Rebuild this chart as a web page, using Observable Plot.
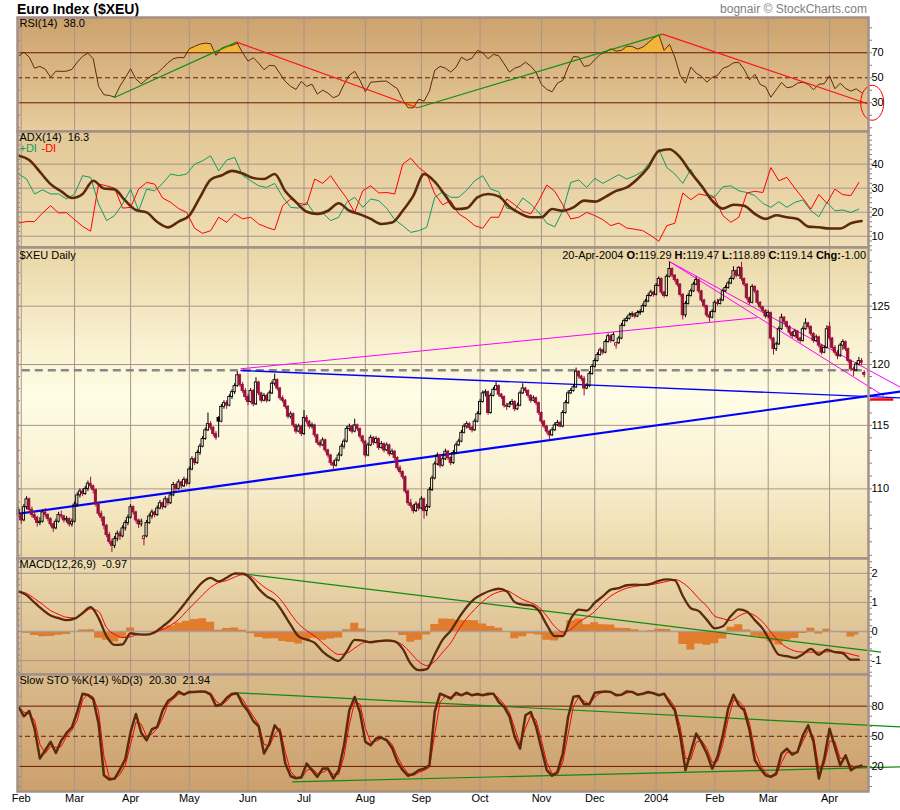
<!DOCTYPE html>
<html>
<head>
<meta charset="utf-8">
<script src="https://cdn.jsdelivr.net/npm/d3@7"></script>
<script src="https://cdn.jsdelivr.net/npm/@observablehq/plot@0.6"></script>
<style>
  body { margin: 0; background: #fff; }
  #chart { position: relative; width: 900px; height: 810px; overflow: hidden; }
  #chart svg { position: absolute; left: 0; }
  .title { position: absolute; left: 17px; top: 1px; font: bold 14px "Liberation Sans", Arial, sans-serif; }
  .credit { position: absolute; right: 33px; top: 2px; font: 12px "Liberation Sans", Arial, sans-serif; color: #808080; }
</style>
</head>
<body>
<div id="chart">
  <div class="title">Euro Index ($XEU)</div>
  <div class="credit">bognair © StockCharts.com</div>
</div>
<script>
// daily candles Jan 31 2003 .. Apr 20 2004 : [open, high, low, close]
const candles = [
  [108.4,108.6,107.8,108.0],[108.0,108.2,107.3,107.6],[107.6,108.8,107.5,108.6],[108.6,109.4,108.4,109.2],[109.2,109.3,108.2,108.4],
  [108.4,108.6,107.8,108.0],[108.0,108.3,107.6,107.8],[107.8,107.9,107.1,107.4],[107.4,107.8,107.2,107.5],[107.5,108.4,107.4,108.2],
  [108.2,108.5,107.8,108.0],[108.0,108.1,107.5,107.7],[107.7,107.8,107.1,107.3],[107.3,107.4,106.7,107.0],[107.0,107.7,106.9,107.5],
  [107.5,108.2,107.4,108.0],[108.0,108.3,107.7,107.9],[107.9,108.0,107.4,107.6],[107.6,107.9,107.4,107.7],[107.7,107.8,107.1,107.3],
  [107.3,107.7,107.1,107.5],
  // Mar
  [107.5,109.0,107.4,108.8],[108.8,109.7,108.6,109.5],[109.5,110.0,109.3,109.8],[109.8,110.0,109.4,109.6],[109.6,110.2,109.5,110.0],
  [110.0,110.6,109.8,110.4],[110.4,110.9,110.0,110.2],[110.2,110.3,109.6,109.9],[109.9,110.0,108.6,108.8],[108.8,108.9,107.9,108.1],
  [108.1,108.3,107.5,107.8],[107.8,107.9,106.9,107.2],[107.2,107.3,106.3,106.5],[106.5,106.7,105.8,106.0],[106.0,106.2,105.2,105.7],
  [105.7,106.4,105.5,106.2],[106.2,106.8,106.0,106.6],[106.6,106.8,106.1,106.4],[106.4,107.2,106.3,107.0],[107.0,107.6,106.8,107.4],
  [107.4,108.0,107.2,107.8],
  // Apr
  [107.8,108.8,107.7,108.6],[108.6,108.7,108.0,108.2],[108.2,108.3,107.4,107.6],[107.6,107.7,107.0,107.3],[107.3,107.7,107.1,107.5],
  [106.2,106.5,105.7,106.4],[106.4,107.6,106.3,107.4],[107.4,108.1,107.3,107.9],[107.9,108.4,107.7,108.2],[108.2,108.3,107.8,108.0],
  [108.0,108.7,107.9,108.5],[108.5,109.1,108.4,108.9],[108.9,109.0,108.4,108.6],[108.6,109.4,108.5,109.2],[109.2,109.3,108.7,108.9],
  [108.9,109.7,108.8,109.5],[109.5,110.5,109.4,110.3],[110.3,110.4,109.8,110.0],[110.0,110.7,109.9,110.5],[110.5,110.6,110.0,110.2],
  [110.2,110.9,110.1,110.7],[110.7,110.8,110.2,110.4],
  // May
  [110.4,111.7,110.3,111.5],[111.5,112.5,111.4,112.3],[112.3,112.4,111.8,112.0],[112.0,113.0,111.9,112.8],[112.8,113.5,112.6,113.3],
  [113.3,114.1,113.2,113.9],[113.9,114.8,113.8,114.6],[114.6,116.0,114.5,115.1],[115.1,115.3,114.6,114.8],[114.8,114.9,114.1,114.3],
  [114.3,114.5,113.8,114.0],[115.6,115.7,114.0,115.3],[115.3,116.7,115.2,116.5],[116.5,117.0,116.3,116.8],[116.8,117.0,116.3,116.6],
  [116.6,117.5,116.5,117.3],[117.3,117.9,117.1,117.7],[117.7,118.4,117.5,118.2],[118.2,119.4,118.1,119.1],[119.1,119.2,118.1,118.3],
  [118.3,118.5,117.6,117.8],[117.8,118.0,117.0,117.3],
  // Jun
  [117.3,117.5,116.6,116.9],[116.9,118.0,116.8,117.8],[117.8,117.9,116.5,116.7],[116.7,118.9,116.6,118.5],[118.5,118.6,117.4,117.6],
  [117.6,117.7,116.8,117.0],[117.0,117.6,116.9,117.4],[117.4,117.5,116.8,117.0],[117.0,117.8,116.9,117.6],[117.6,118.6,117.5,118.4],
  [118.4,119.2,118.2,118.7],[118.7,118.8,117.8,118.0],[118.0,118.1,117.0,117.2],[117.2,117.4,116.8,117.0],[117.0,117.1,116.3,116.5],
  [116.5,116.6,115.5,115.7],[115.7,116.1,115.5,115.9],[115.9,116.0,114.8,115.0],[115.0,115.1,114.3,114.5],[114.5,115.1,114.4,114.9],
  [114.9,115.0,114.1,114.3],
  // Jul
  [114.3,116.2,114.2,115.6],[115.6,115.8,115.1,115.3],[115.3,115.4,114.7,114.9],[114.9,115.2,114.7,115.0],[115.0,115.1,114.0,114.2],
  [114.2,114.3,113.4,113.6],[113.6,113.8,113.2,113.4],[113.4,114.0,113.3,113.8],[113.8,113.9,112.8,113.0],[113.0,113.1,112.4,112.6],
  [112.6,112.7,111.8,112.0],[112.0,112.2,111.4,111.8],[111.8,112.4,111.7,112.2],[112.2,112.8,112.1,112.6],[112.6,113.5,112.5,113.3],
  [113.3,113.9,113.1,113.7],[113.7,114.9,113.6,114.7],[114.7,115.1,114.5,114.9],[114.9,115.0,114.3,114.5],[114.5,115.5,114.4,115.0],
  [115.0,115.1,114.5,114.7],[114.7,114.8,113.9,114.1],[114.1,114.2,113.5,113.7],
  // Aug
  [113.7,113.8,112.4,112.6],[112.6,113.6,112.5,113.4],[113.4,114.2,113.3,114.0],[114.0,114.1,113.4,113.6],[113.6,114.1,113.5,113.9],
  [113.9,114.0,113.0,113.2],[113.2,113.7,113.1,113.5],[113.5,113.6,112.8,113.0],[113.0,113.6,112.9,113.4],[113.4,113.5,112.5,112.7],
  [112.7,113.1,112.6,112.9],[112.9,113.0,112.2,112.4],[112.4,112.5,111.4,111.6],[111.6,111.8,111.1,111.3],[111.3,111.4,110.7,110.9],
  [110.9,111.0,109.6,109.8],[109.8,109.9,108.7,108.9],[108.9,109.2,108.5,108.7],[108.7,108.8,108.1,108.3],[108.3,109.0,108.2,108.8],
  [108.8,108.9,108.3,108.5],
  // Sep
  [108.5,109.4,108.4,109.2],[109.2,109.3,107.7,108.3],[108.3,108.8,107.9,108.6],[108.6,110.1,108.5,109.9],[109.9,111.0,109.8,110.8],
  [110.8,112.1,110.7,111.9],[111.9,112.8,111.8,112.6],[112.6,112.7,111.6,111.8],[111.8,112.5,111.7,112.3],[112.3,113.1,112.2,112.9],
  [112.9,113.0,112.2,112.4],[112.4,112.5,111.8,112.0],[112.0,113.0,111.9,112.8],[112.8,113.6,112.7,113.4],[113.4,113.9,113.3,113.7],
  [113.7,114.6,113.6,114.4],[114.4,115.1,114.3,114.9],[114.9,115.3,114.7,115.1],[115.1,115.2,114.6,114.8],[114.8,114.9,114.4,114.6],
  [114.6,115.5,114.5,115.3],[115.3,116.1,115.2,115.9],
  // Oct
  [115.9,117.1,115.8,116.9],[116.9,117.8,116.8,117.6],[117.6,117.9,117.3,117.7],[117.7,117.8,115.8,116.0],[116.0,117.6,115.9,117.4],
  [117.4,118.1,117.3,117.9],[117.9,118.5,117.8,118.2],[118.2,118.3,117.3,117.5],[117.5,117.6,117.1,117.3],[117.3,117.4,116.4,116.6],
  [116.6,116.8,116.2,116.5],[116.5,116.9,116.4,116.7],[116.7,117.1,116.6,116.9],[116.9,117.0,116.1,116.3],[116.3,116.8,116.2,116.6],
  [116.6,117.8,116.5,117.6],[117.6,118.4,117.5,118.0],[118.0,118.1,117.6,117.8],[117.8,117.9,117.2,117.4],[117.4,117.5,116.8,117.0],
  [117.0,117.4,116.9,117.2],[117.2,117.3,116.6,116.8],[116.8,116.9,115.8,116.0],
  // Nov
  [116.0,116.1,115.1,115.3],[115.3,115.4,114.7,114.9],[114.9,115.0,114.3,114.5],[114.5,114.6,113.8,114.2],[114.2,114.8,114.1,114.6],
  [114.6,115.2,114.5,115.0],[115.0,115.4,114.9,115.2],[115.2,115.3,114.8,114.9],[114.9,116.2,114.8,116.0],[116.0,117.0,115.9,116.8],
  [116.8,117.8,116.7,117.6],[117.6,118.0,117.5,117.8],[117.8,118.3,117.7,118.1],[118.1,119.7,118.0,119.4],[119.4,119.5,118.8,119.0],
  [119.0,119.1,118.6,118.8],[118.8,119.0,117.4,118.0],[118.0,118.4,117.9,118.2],[118.2,119.4,118.1,119.2],[119.2,120.0,119.1,119.8],
  // Dec
  [119.8,120.5,119.7,120.3],[120.3,121.0,120.2,120.8],[120.8,121.4,120.7,121.2],[121.2,121.3,120.8,121.0],[121.0,122.1,120.9,121.9],
  [121.9,122.6,121.8,122.4],[122.4,122.5,121.8,122.0],[122.0,122.7,121.9,122.5],[121.6,121.9,121.3,121.8],[121.8,122.4,121.7,122.2],
  [122.2,123.5,122.1,123.3],[123.3,123.9,123.2,123.7],[123.7,124.1,123.6,123.9],[123.9,124.4,123.8,124.2],[124.2,124.5,124.0,124.3],
  [124.3,124.4,123.9,124.1],[124.1,124.6,124.0,124.4],[124.4,124.7,124.2,124.5],[124.5,125.2,124.4,125.0],[125.0,125.6,124.9,125.4],
  [125.4,126.1,125.3,125.9],[125.9,126.4,125.8,126.2],[126.2,126.3,125.8,126.0],
  // Jan 2004
  [126.0,127.0,125.9,126.8],[126.8,127.6,126.7,127.4],[127.4,127.5,126.0,126.2],[126.2,126.3,125.7,125.9],[125.9,127.8,125.8,127.6],
  [127.6,128.9,127.5,128.3],[128.3,128.4,127.5,127.7],[127.7,127.8,127.1,127.3],[127.3,127.4,126.7,126.9],[126.9,127.0,125.8,126.0],
  [126.0,126.1,123.8,124.2],[124.2,125.4,124.0,125.2],[125.2,126.1,125.1,125.9],[125.9,126.5,125.8,126.3],[126.3,127.1,126.2,126.9],
  [126.9,127.6,126.8,127.3],[127.3,127.4,126.1,126.3],[126.3,126.4,125.3,125.5],[125.5,125.6,124.8,125.0],[125.0,125.1,124.0,124.2],
  [124.2,124.5,123.6,124.0],[124.0,124.7,123.9,124.5],
  // Feb
  [124.5,125.5,124.4,125.3],[125.3,125.6,125.0,125.2],[125.2,125.7,125.1,125.5],[125.5,126.5,125.4,126.3],[126.3,126.8,126.2,126.6],
  [126.6,127.2,126.5,127.0],[127.0,127.6,126.9,127.4],[127.4,128.5,127.3,128.1],[128.1,128.2,127.5,127.7],[127.7,128.5,127.6,128.4],
  [128.4,128.9,127.2,127.4],[127.4,127.5,126.7,126.9],[126.9,127.0,125.5,125.7],[125.7,125.8,125.1,125.3],[125.3,126.9,125.2,126.7],
  [126.7,126.8,126.1,126.3],[126.3,126.4,125.1,125.3],[125.3,125.4,124.7,124.9],[124.9,125.0,124.4,124.6],[124.6,124.7,123.9,124.1],
  // Mar
  [124.1,124.6,123.9,124.4],[124.4,124.5,122.0,122.2],[122.2,122.3,120.8,121.3],[121.3,121.9,121.1,121.7],[121.7,123.2,121.6,123.0],
  [123.0,124.3,122.9,124.0],[124.0,124.1,123.4,123.6],[123.6,123.7,123.0,123.2],[123.2,123.3,122.5,122.7],[122.7,122.8,122.2,122.4],
  [122.4,123.0,122.3,122.8],[122.8,122.9,122.0,122.2],[122.2,122.3,121.8,122.0],[122.0,123.2,121.9,123.0],[123.0,123.9,122.9,123.5],
  [123.5,123.6,123.0,123.2],[123.2,123.3,122.4,122.6],[122.6,122.7,121.8,122.0],[122.0,122.5,121.9,122.3],[122.3,122.4,121.4,121.6],
  [121.6,121.7,120.8,121.0],[121.0,121.6,120.9,121.4],[121.4,123.3,121.3,123.0],
  // Apr
  [123.2,123.6,122.0,122.2],[122.2,122.3,121.2,121.4],[121.4,121.6,120.8,121.0],[121.0,121.2,120.4,120.7],[120.7,121.8,120.6,121.6],
  [121.6,122.1,121.2,121.9],[121.9,122.0,121.1,121.3],[121.3,121.4,120.1,120.3],[120.3,120.4,119.4,119.6],[119.6,119.8,119.0,119.5],
  [119.5,120.2,119.4,120.0],[120.0,120.6,119.9,120.3],[120.3,120.5,119.9,120.14],[119.29,119.47,118.89,119.14]
];

// RSI(14), every 2nd trading day
const rsi = [67.3,70.5,66.5,57.7,59.1,56.9,50.5,55.3,55.1,55.3,
  56.7,62.5,67.1,69.7,65.2,43.1,36.4,35.9,34.5,43.3,
  50.0,57.2,48.9,45.2,48.7,51.9,53.7,57.7,62.0,65.2,
  66.3,66.0,73.2,75.1,76.9,77.7,77.2,67.9,73.5,75.1,
  75.9,77.7,70.0,63.3,66.0,61.7,56.4,59.9,59.6,53.2,
  47.1,43.1,40.7,47.1,43.1,44.9,36.9,40.1,37.7,34.0,
  35.9,44.7,52.1,55.1,47.9,38.8,46.5,46.8,47.3,47.3,
  44.1,41.2,32.4,26.0,26.0,32.9,31.3,39.3,55.9,59.1,
  57.7,54.5,
  58.5,66.5,63.9,65.7,71.9,70.0,65.2,68.7,67.6,61.2,
  54.5,57.7,59.1,62.5,59.3,54.3,44.7,40.7,38.8,45.7,
  47.9,58.5,67.1,66.5,59.1,59.9,64.4,68.7,70.5,73.2,
  71.3,71.9,75.1,75.1,72.9,74.5,78.0,81.7,84.4,71.9,
  76.7,66.5,51.9,45.7,58.5,53.7,51.1,46.5,50.3,51.9,
  57.5,59.1,62.0,62.3,56.7,48.4,52.7,44.7,42.8,34.5,
  40.4,46.3,42.0,42.8,45.7,46.5,44.7,40.4,44.9,45.2,
  51.6,41.2,45.7,41.5,39.3,41.2,38.0];

// ADX(14), every 4th trading day
const adx = [43.5,41.7,36.8,31.7,28.7,25.9,27.6,33.1,29.9,29.5,
  24.8,20.9,19.9,15.9,13.7,16.1,18.6,26.2,33.5,35.3,
  37.2,36.1,34.2,33.8,35.9,28.7,24.2,20.2,19.3,20.6,
  23.7,20.6,19.1,17.2,15.1,15.7,20.6,26.9,35.9,32.7,
  26.9,21.3,21.7,26.2,27.6,26.6,22.3,19.5,17.9,17.9,
  21.3,20.6,22.0,24.8,24.4,26.4,28.9,30.3,33.8,38.6,
  45.5,46.2,42.8,36.5,31.0,24.8,21.5,23.1,22.7,19.3,
  17.2,18.7,17.9,17.2,14.0,13.7,13.2,13.2,15.4,16.3];

// +DI and -DI, every 3rd trading day
const plusDI = [35.9,33.8,27.6,29.3,27.6,27.6,25.5,27.6,35.2,34.5,
  23.4,16.5,18.6,23.4,29.6,20.6,29.6,28.9,32.0,35.9,
  35.2,35.9,40.0,41.4,43.5,37.2,41.7,42.8,35.3,33.1,
  31.0,30.3,32.0,26.4,22.0,21.7,24.1,19.3,19.7,16.5,
  17.9,24.1,26.2,22.0,25.5,24.8,21.6,16.9,14.4,11.6,
  12.3,13.7,26.2,28.5,
  26.2,26.2,29.2,33.1,35.2,29.6,28.5,21.7,20.9,25.9,
  23.4,19.9,15.4,13.9,20.6,32.4,33.4,30.3,34.1,32.0,
  33.8,35.6,33.8,35.2,37.0,41.4,46.2,38.6,35.9,32.0,
  37.9,31.7,27.6,26.4,30.6,31.0,28.9,28.2,26.9,23.7,
  22.0,24.4,22.0,24.1,25.1,20.6,18.1,24.1,20.6,20.9,
  19.9,21.3];
const minusDI = [15.5,16.1,16.1,19.7,22.7,19.7,19.8,16.9,14.1,12.1,
  31.7,31.0,30.0,21.7,22.0,29.6,32.4,31.7,25.9,24.1,
  21.5,19.9,13.3,11.2,12.3,17.9,15.8,19.3,17.2,17.9,
  15.1,13.7,12.6,22.7,25.5,23.7,23.1,33.8,32.0,35.2,
  30.3,25.8,19.9,28.9,31.0,28.0,28.2,27.6,40.0,42.5,
  38.6,36.1,27.6,23.1,
  24.8,19.3,17.2,14.4,13.3,17.9,17.9,25.5,23.1,20.4,
  19.3,24.8,31.3,28.7,23.1,17.2,17.9,19.9,18.6,16.9,
  14.4,15.5,13.4,12.9,12.3,10.3,7.9,14.4,15.4,28.0,
  25.2,27.6,26.9,25.9,18.6,15.8,17.9,28.0,28.7,28.2,
  38.6,33.1,34.5,30.0,25.8,21.3,27.4,23.7,29.6,27.3,
  26.9,32.4];

// MACD(12,26,9) and signal, every 3rd trading day
const macd = [1.38,1.25,0.99,0.75,0.55,0.46,0.39,0.44,0.64,0.84,
  0.46,-0.17,-0.46,-0.44,-0.06,-0.10,-0.11,-0.03,0.17,0.40,
  0.70,1.05,1.39,1.70,1.84,1.72,1.85,1.99,1.99,1.82,
  1.47,1.21,1.05,0.67,0.23,-0.17,-0.28,-0.39,-0.69,-0.89,
  -1.01,-0.69,-0.29,-0.31,-0.37,-0.33,-0.31,-0.34,-0.60,-1.11,
  -1.33,-1.29,-0.79,-0.28,
  0.03,0.46,0.84,1.13,1.29,1.41,1.47,1.38,1.01,0.92,
  0.90,0.72,0.23,-0.16,-0.16,0.44,0.75,0.72,0.99,1.21,
  1.44,1.49,1.59,1.61,1.60,1.64,1.74,1.79,1.76,1.22,
  0.80,0.70,0.40,0.11,0.18,0.53,0.76,0.69,0.39,0.09,
  -0.37,-0.80,-0.85,-0.91,-0.78,-0.60,-0.80,-0.62,-0.71,-0.75,
  -0.97,-0.97];
const signal = [1.38,1.31,1.13,0.93,0.72,0.59,0.49,0.47,0.59,0.78,
  0.69,0.13,-0.10,-0.21,-0.18,-0.10,-0.10,-0.03,0.07,0.21,
  0.41,0.70,0.98,1.26,1.52,1.68,1.75,1.87,1.95,1.90,
  1.68,1.47,1.30,1.01,0.61,0.26,0.03,-0.16,-0.39,-0.63,
  -0.79,-0.75,-0.57,-0.40,-0.34,-0.32,-0.31,-0.34,-0.46,-0.74,
  -1.03,-1.17,-1.03,-0.71,
  -0.39,0.07,0.46,0.76,1.03,1.24,1.36,1.40,1.26,1.10,
  0.99,0.84,0.53,0.17,-0.02,0.07,0.32,0.49,0.69,0.98,
  1.22,1.38,1.49,1.55,1.59,1.61,1.66,1.72,1.79,1.67,
  1.44,1.13,0.87,0.53,0.44,0.38,0.53,0.64,0.55,0.32,
  -0.02,-0.34,-0.55,-0.67,-0.71,-0.71,-0.71,-0.70,-0.69,-0.71,
  -0.78,-0.85];

// Slow stochastic %K(14) %D(3), every 2nd trading day
const stoK = [79.2,69.9,75.2,57.6,27.8,36.1,44.4,33.4,45.7,53.3,
  59.0,74.2,92.4,91.1,86.8,62.6,11.2,6.9,7.9,16.9,
  27.1,54.3,72.2,53.3,46.0,57.0,59.3,75.9,85.1,88.8,
  94.4,91.4,94.1,94.1,94.7,94.4,91.4,80.2,81.8,88.1,
  92.4,92.4,81.8,74.9,65.2,59.9,32.8,42.7,60.9,54.3,
  22.8,10.2,8.2,9.2,22.8,16.2,9.6,17.8,17.8,7.9,
  16.2,41.1,75.9,89.1,73.5,44.4,41.1,47.7,48.7,46.0,
  38.4,24.5,16.2,10.6,12.5,16.2,17.8,21.2,74.2,92.4,
  90.1,
  87.5,93.4,90.8,93.4,90.8,92.1,90.8,92.4,92.4,84.1,
  79.2,69.9,49.3,37.7,70.9,74.2,59.3,37.7,16.2,10.6,
  14.5,32.8,69.2,89.4,90.1,81.8,81.8,93.4,94.1,94.7,
  94.1,90.8,91.4,94.7,94.1,91.4,92.4,94.1,92.8,90.8,
  92.4,83.5,75.9,51.0,16.2,34.4,52.7,43.7,32.8,17.8,
  29.5,51.0,77.5,91.4,80.8,75.9,56.0,26.1,17.8,11.2,
  9.6,12.9,32.8,37.7,31.8,34.4,51.0,60.9,44.4,7.9,
  27.8,57.6,39.4,21.2,31.1,16.2,19.5,20.3];
const stoD = [79,74,72,66,42,33,40,39,40,50,
  56,66,86,92,89,75,30,9,7,12,
  21,42,64,62,50,52,58,68,82,87,
  92,92,93,94,94,94,93,85,81,85,
  91,92,87,78,70,62,42,40,52,58,
  34,15,9,8,16,18,13,14,17,12,
  12,30,62,84,82,58,44,45,48,47,
  42,30,20,13,11,14,16,19,52,84,
  90,
  89,91,91,92,91,91,91,91,92,88,
  82,74,58,42,58,71,66,46,24,13,
  12,24,52,80,89,85,82,89,93,94,
  94,92,91,93,94,92,92,93,93,91,
  92,87,79,60,28,27,44,46,38,24,
  25,42,67,86,85,79,63,36,22,14,
  10,11,24,34,34,34,45,56,50,18,
  22,45,45,28,28,21,19,21.94];

// hand-drawn trendlines: [[day, value], [day, value]]
const rsiUpLines = [[[35.75, 34.0], [81.75, 78.5]], [[149.5, 26.0], [241.4, 84.9]]];
const rsiDownLines = [[[81.75, 78.5], [149.5, 26.0]], [[241.4, 84.9], [318.3, 29.2]]];
const blueLower = [[[-0.5, 108.09], [330.6, 117.75]]];
const blueUpper = [[[83.2, 119.5], [330.6, 117.23]]];
const magentaLines = [[[83.2, 119.64], [276.9, 124.0]], [[243.7, 129.0], [330.6, 118.1]], [[244.4, 128.9], [324.3, 117.4]]];
const redMark = [[[319.2, 117.1], [327.9, 117.1]]];
const priceLevel = 119.53;
const macdLines = [[[80.75, 2.02], [323.3, -0.71]]];
const stoLines = [[[80.75, 93.4], [330.8, 59.3]], [[102.6, 4.6], [330.8, 19.5]]];

const monthLabels = ["Feb","Mar","Apr","May","Jun","Jul","Aug","Sep","Oct","Nov","Dec","2004","Feb","Mar","Apr"];
const headerParts = [["20-Apr-2004 ", false], ["O:", true], ["119.29 ", false], ["H:", true], ["119.47 ", false],
  ["L:", true], ["118.89 ", false], ["C:", true], ["119.14 ", false], ["Chg:", true], ["-1.00", false]];

// ---------------------------------------------------------------
const FONT = "'Liberation Sans', Arial, sans-serif";
const GRID = "#a8948c", BORDER = "#a39189", BROWN = "#5b2a0d", LEVEL = "#6a1800", RED = "#99103a";
const xDomain = [-0.4, 318.6];

const tradingDays = d3.utcDays(new Date(Date.UTC(2003, 0, 31)), new Date(Date.UTC(2004, 3, 21)))
  .filter(d => d.getUTCDay() % 6 !== 0);
const monthStarts = tradingDays.map((d, i) => i)
  .filter(i => i > 0 && tradingDays[i].getUTCMonth() !== tradingDays[i - 1].getUTCMonth());

const pts = (arr, step) => arr.map((v, k) => ({i: k * step, v}));
const seg = {x1: d => d[0][0], y1: d => d[0][1], x2: d => d[1][0], y2: d => d[1][1]};

const chart = document.getElementById("chart");

function yAxes(major, minor, fmt) {
  return [
    Plot.axisY({anchor: "right", ticks: major, tickSize: 0, tickPadding: 3, label: null, fontSize: 11, tickFormat: fmt || (d => String(d))}),
    Plot.axisY({anchor: "right", ticks: minor, tickSize: 3, label: null, tickFormat: () => "", stroke: "#8d7c74"}),
    Plot.axisY({anchor: "left", ticks: minor, tickSize: 3, dx: 3, label: null, tickFormat: () => "", stroke: "#8d7c74"})
  ];
}

function addPanel({top, height, extraBottom = 0, y, grad, marks}) {
  const id = "grad" + top;
  const svg = Plot.plot({
    width: 900, height: height + extraBottom,
    marginLeft: 17, marginRight: 32, marginTop: 0, marginBottom: extraBottom,
    x: {domain: xDomain, axis: null},
    y: {...y, axis: null},
    color: {type: "identity"},
    style: {background: "none", fontFamily: FONT, fontSize: "11px", overflow: "visible", color: "#000"},
    marks: [
      Plot.frame({fill: `url(#${id})`}),
      Plot.ruleX(monthStarts, {stroke: GRID, strokeWidth: 1}),
      ...marks,
      Plot.frame({stroke: BORDER, strokeWidth: 2.5})
    ]
  });
  const g = d3.select(svg).insert("defs", ":first-child").append("linearGradient")
    .attr("id", id).attr("x1", 0).attr("x2", 0).attr("y1", 0).attr("y2", 1);
  grad.forEach(([o, c]) => g.append("stop").attr("offset", o).attr("stop-color", c));
  svg.style.top = top + "px";
  chart.appendChild(svg);
  return svg;
}

const label = (text, dy = 2, dx = 2, fill = "#000") =>
  Plot.text([text], {frameAnchor: "top-left", dx, dy, fontSize: 11, fill});

// ellipse symbol for the red circle around the RSI 30 label
const ellipse = {draw(ctx) {
  const rx = 11.5, ry = 17.5, k = 0.5523;
  ctx.moveTo(rx, 0);
  ctx.bezierCurveTo(rx, ry * k, rx * k, ry, 0, ry);
  ctx.bezierCurveTo(-rx * k, ry, -rx, ry * k, -rx, 0);
  ctx.bezierCurveTo(-rx, -ry * k, -rx * k, -ry, 0, -ry);
  ctx.bezierCurveTo(rx * k, -ry, rx, -ry * k, rx, 0);
  ctx.closePath();
}};

// RSI panel
const rsiPts = pts(rsi, 2);
addPanel({
  top: 17, height: 114, y: {domain: [7.04, 98.2]},
  grad: [[0, "#cda26d"], [1, "#e7cd9e"]],
  marks: [
    Plot.areaY(rsiPts, {x: "i", y1: 70, y2: d => Math.max(70, d.v), fill: "#f3b43c"}),
    Plot.areaY(rsiPts, {x: "i", y1: 30, y2: d => Math.min(30, d.v), fill: "#f3b43c"}),
    Plot.ruleY([70, 30], {stroke: LEVEL, strokeWidth: 1}),
    Plot.ruleY([50], {stroke: LEVEL, strokeWidth: 1, strokeDasharray: "5,3"}),
    Plot.line(rsiPts, {x: "i", y: "v", stroke: BROWN, strokeWidth: 1}),
    Plot.link(rsiUpLines, {...seg, stroke: "#119011", strokeWidth: 1.2}),
    Plot.link(rsiDownLines, {...seg, stroke: "#ff1515", strokeWidth: 1.2}),
    Plot.dot([30], {x: 320, y: d => d, symbol: ellipse, stroke: "#ff0000", fill: "none", strokeWidth: 1}),
    label("RSI(14)  38.0"),
    ...yAxes([30, 50, 70], d3.range(10, 100, 10))
  ]
});

// ADX panel
addPanel({
  top: 131, height: 116, y: {domain: [5.3, 53.6]},
  grad: [[0, "#e3c796"], [1, "#efdfb6"]],
  marks: [
    Plot.ruleY([10, 20, 30, 40], {stroke: GRID}),
    Plot.line(pts(plusDI, 3), {x: "i", y: "v", stroke: "#0f9c62", strokeWidth: 1}),
    Plot.line(pts(minusDI, 3), {x: "i", y: "v", stroke: "#ff0000", strokeWidth: 1}),
    Plot.line(pts(adx, 4), {x: "i", y: "v", stroke: BROWN, strokeWidth: 2.6, curve: "monotone-x"}),
    label("ADX(14)  16.3"),
    label("+DI", 13, 2, "#0f9c62"),
    label("-DI", 13, 24, "#ff0000"),
    ...yAxes([10, 20, 30, 40], d3.range(6, 54, 2))
  ]
});

// Price panel
const bars = candles.map(([o, h, l, c], i) => {
  const down = i > 0 && c < candles[i - 1][3];
  const col = down ? RED : "#000";
  return {i, h, l, top: Math.max(o, c), bot: Math.min(o, c), col, fill: c < o ? col : "none"};
});
const priceSvg = addPanel({
  top: 247, height: 311, y: {type: "log", domain: [104.77, 130.24]},
  grad: [[0, "#ead6a5"], [0.3, "#f8f0cf"], [0.48, "#fffde6"], [0.72, "#f9f1d3"], [1, "#ecd8a8"]],
  marks: [
    Plot.ruleY([110, 115, 120, 125], {stroke: GRID}),
    Plot.ruleY([priceLevel], {x1: 1.4, x2: xDomain[1], stroke: "#878787", strokeWidth: 2.5, strokeDasharray: "8,5"}),
    Plot.link(magentaLines, {...seg, stroke: "#ff00ff", strokeWidth: 1}),
    Plot.link(blueUpper, {...seg, stroke: "#0000ff", strokeWidth: 1.4}),
    Plot.link(blueLower, {...seg, stroke: "#0000ff", strokeWidth: 2.2}),
    Plot.ruleX(bars, {x: "i", y1: "l", y2: "bot", stroke: "col", strokeWidth: 1}),
    Plot.ruleX(bars, {x: "i", y1: "top", y2: "h", stroke: "col", strokeWidth: 1}),
    Plot.rect(bars, {x1: d => d.i - 0.42, x2: d => d.i + 0.42, y1: "bot", y2: "top", fill: "fill", stroke: "col", strokeWidth: 0.9}),
    Plot.link(redMark, {...seg, stroke: "#ff0000", strokeWidth: 2.5}),
    label("$XEU Daily", 4),
    ...yAxes([110, 115, 120, 125], d3.range(105, 131, 1))
  ]
});
// header line with bold field names, top-right of the price panel
const hdr = d3.select(priceSvg).append("text")
  .attr("x", 866).attr("y", 12).attr("text-anchor", "end")
  .attr("font-family", FONT).attr("font-size", 11).style("white-space", "pre");
headerParts.forEach(([s, b]) => hdr.append("tspan").attr("font-weight", b ? "bold" : null).text(s));

// MACD panel
const macdPts = pts(macd, 3);
const histPts = macd.map((v, k) => ({i: k * 3, v: v - signal[k]}));
addPanel({
  top: 558, height: 116, y: {domain: [-1.478, 2.509]},
  grad: [[0, "#ecdcb0"], [1, "#d7b586"]],
  marks: [
    Plot.ruleY([-1, 1, 2], {stroke: GRID}),
    Plot.areaY(histPts, {x: "i", y: "v", curve: "step", fill: "#e07c2b"}),
    Plot.ruleY([0], {stroke: "#a89c9c", strokeWidth: 1.5}),
    Plot.link(macdLines, {...seg, stroke: "#108a10", strokeWidth: 1.2}),
    Plot.line(pts(signal, 3), {x: "i", y: "v", stroke: "#ff0000", strokeWidth: 1, curve: "monotone-x"}),
    Plot.line(macdPts, {x: "i", y: "v", stroke: BROWN, strokeWidth: 2.3, curve: "monotone-x"}),
    label("MACD(12,26,9)  -0.97"),
    ...yAxes([-1, 0, 1, 2], d3.range(-1.4, 2.5, 0.2))
  ]
});

// Slow stochastic panel
addPanel({
  top: 674, height: 117, extraBottom: 19, y: {domain: [-4.98, 111.5]},
  grad: [[0, "#d9b98b"], [1, "#cca06b"]],
  marks: [
    Plot.ruleY([80, 20], {stroke: LEVEL}),
    Plot.ruleY([50], {stroke: LEVEL, strokeDasharray: "5,3"}),
    Plot.link(stoLines, {...seg, stroke: "#108a10", strokeWidth: 1.2}),
    Plot.line(pts(stoD, 2), {x: "i", y: "v", stroke: "#ff0000", strokeWidth: 1}),
    Plot.line(pts(stoK, 2), {x: "i", y: "v", stroke: BROWN, strokeWidth: 2.5}),
    label("Slow STO %K(14) %D(3)  20.30  21.94"),
    ...yAxes([20, 50, 80], d3.range(0, 111, 10)),
    Plot.axisX({ticks: monthStarts, tickFormat: d => monthLabels[monthStarts.indexOf(d)], tickSize: 0, tickPadding: 3, label: null, fontSize: 11})
  ]
});
</script>
</body>
</html>
